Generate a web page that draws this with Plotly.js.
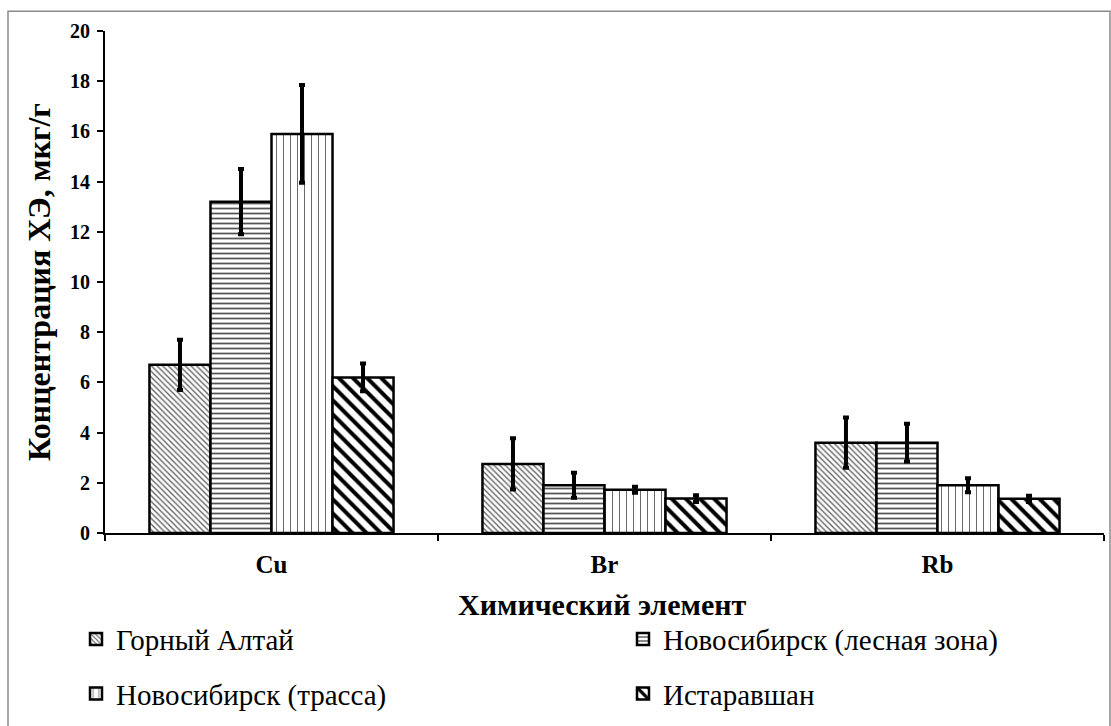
<!DOCTYPE html>
<html>
<head>
<meta charset="utf-8">
<script src="https://cdn.plot.ly/plotly-3.0.1.min.js"></script>
<style>html,body{margin:0;padding:0;background:#fff;}#chart{width:1111px;height:726px;}</style>
</head>
<body>
<div id="chart"></div>
<script>
const categories = ["Cu", "Br", "Rb"];
const seriesNames = ["Горный Алтай", "Новосибирск (лесная зона)", "Новосибирск (трасса)", "Истаравшан"];
const altai = [6.7, 2.75, 3.6];
const altaiErr = [1.0, 1.02, 1.0];
const nskForest = [13.2, 1.9, 3.6];
const nskForestErr = [1.3, 0.5, 0.75];
const nskRoad = [15.9, 1.72, 1.9];
const nskRoadErr = [1.95, 0.12, 0.28];
const istaravshan = [6.2, 1.37, 1.36];
const istaravshanErr = [0.55, 0.13, 0.12];
const yTickVals = [0, 2, 4, 6, 8, 10, 12, 14, 16, 18, 20];

const serif = "Liberation Serif";
const values = [altai, nskForest, nskRoad, istaravshan];
const errs = [altaiErr, nskForestErr, nskRoadErr, istaravshanErr];
const patterns = [
  {shape: "\\", size: 4, solidity: 0.35, fgcolor: "#666", bgcolor: "#fff"},
  {shape: "-", size: 5, solidity: 0.35, fgcolor: "#555", bgcolor: "#fff"},
  {shape: "|", size: 7, solidity: 0.14, fgcolor: "#666", bgcolor: "#fff"},
  {shape: "\\", size: 10, solidity: 0.4, fgcolor: "#000", bgcolor: "#fff"}
];
const legendIds = ["legend", "legend2", "legend3", "legend4"];

const traces = values.map((v, i) => ({
  type: "bar",
  name: seriesNames[i],
  x: categories,
  y: v,
  legend: legendIds[i],
  marker: {color: "#fff", pattern: patterns[i], line: {color: "#000", width: 2.5}},
  error_y: {type: "data", array: errs[i], visible: true, color: "#000", thickness: 4, width: 3}
}));

// plot area: x 105..1104, y 31..537
const H = 506, W = 999;
const py = p => (537 - p) / H;
const px = p => (p - 105) / W;
const legFont = {family: serif, size: 29, color: "#000"};
function leg(xp, yp) {
  return {x: px(xp), y: py(yp), xanchor: "left", yanchor: "middle", orientation: "h",
          font: legFont, bgcolor: "rgba(0,0,0,0)", borderwidth: 0};
}

const layout = {
  width: 1111, height: 726,
  margin: {l: 105, r: 7, t: 31, b: 189},
  paper_bgcolor: "#fff", plot_bgcolor: "#fff",
  barmode: "group", bargap: 0.267, bargroupgap: 0,
  font: {family: serif, color: "#000"},
  xaxis: {
    type: "category", showline: true, linecolor: "#000", linewidth: 2,
    ticks: "outside", tickson: "boundaries", ticklen: 6, tickwidth: 2, tickcolor: "#000",
    tickfont: {family: serif, size: 25, color: "#000", weight: "bold"},
    ticklabelstandoff: 8, showgrid: false, zeroline: false
  },
  yaxis: {
    range: [0, 20], tickvals: yTickVals, ticktext: yTickVals.map(String),
    showline: true, linecolor: "#000", linewidth: 2,
    ticks: "outside", ticklen: 6, tickwidth: 2, tickcolor: "#000",
    tickfont: {family: serif, size: 20, color: "#000", weight: "bold"},
    ticklabelstandoff: 3,
    showgrid: false, zeroline: false,
    title: {text: "Концентрация ХЭ, мкг/г", font: {family: serif, size: 32, color: "#000", weight: "bold"}, standoff: 10}
  },
  showlegend: true,
  legend: leg(76, 644),
  legend2: leg(623, 644),
  legend3: leg(76, 699),
  legend4: leg(623, 699),
  annotations: [{
    text: "<b>Химический элемент</b>", xref: "paper", yref: "paper",
    x: px(602), y: py(609), xanchor: "center", yanchor: "middle", showarrow: false,
    font: {family: serif, size: 30, color: "#000"}
  }],
  shapes: [{
    type: "rect", xref: "paper", yref: "paper",
    x0: px(8), x1: px(1110), y0: py(740), y1: py(11),
    line: {color: "#8a8a8a", width: 1.5}, fillcolor: "rgba(0,0,0,0)", layer: "below"
  }]
};

Plotly.newPlot("chart", traces, layout, {displayModeBar: false, staticPlot: true});
</script>
</body>
</html>
